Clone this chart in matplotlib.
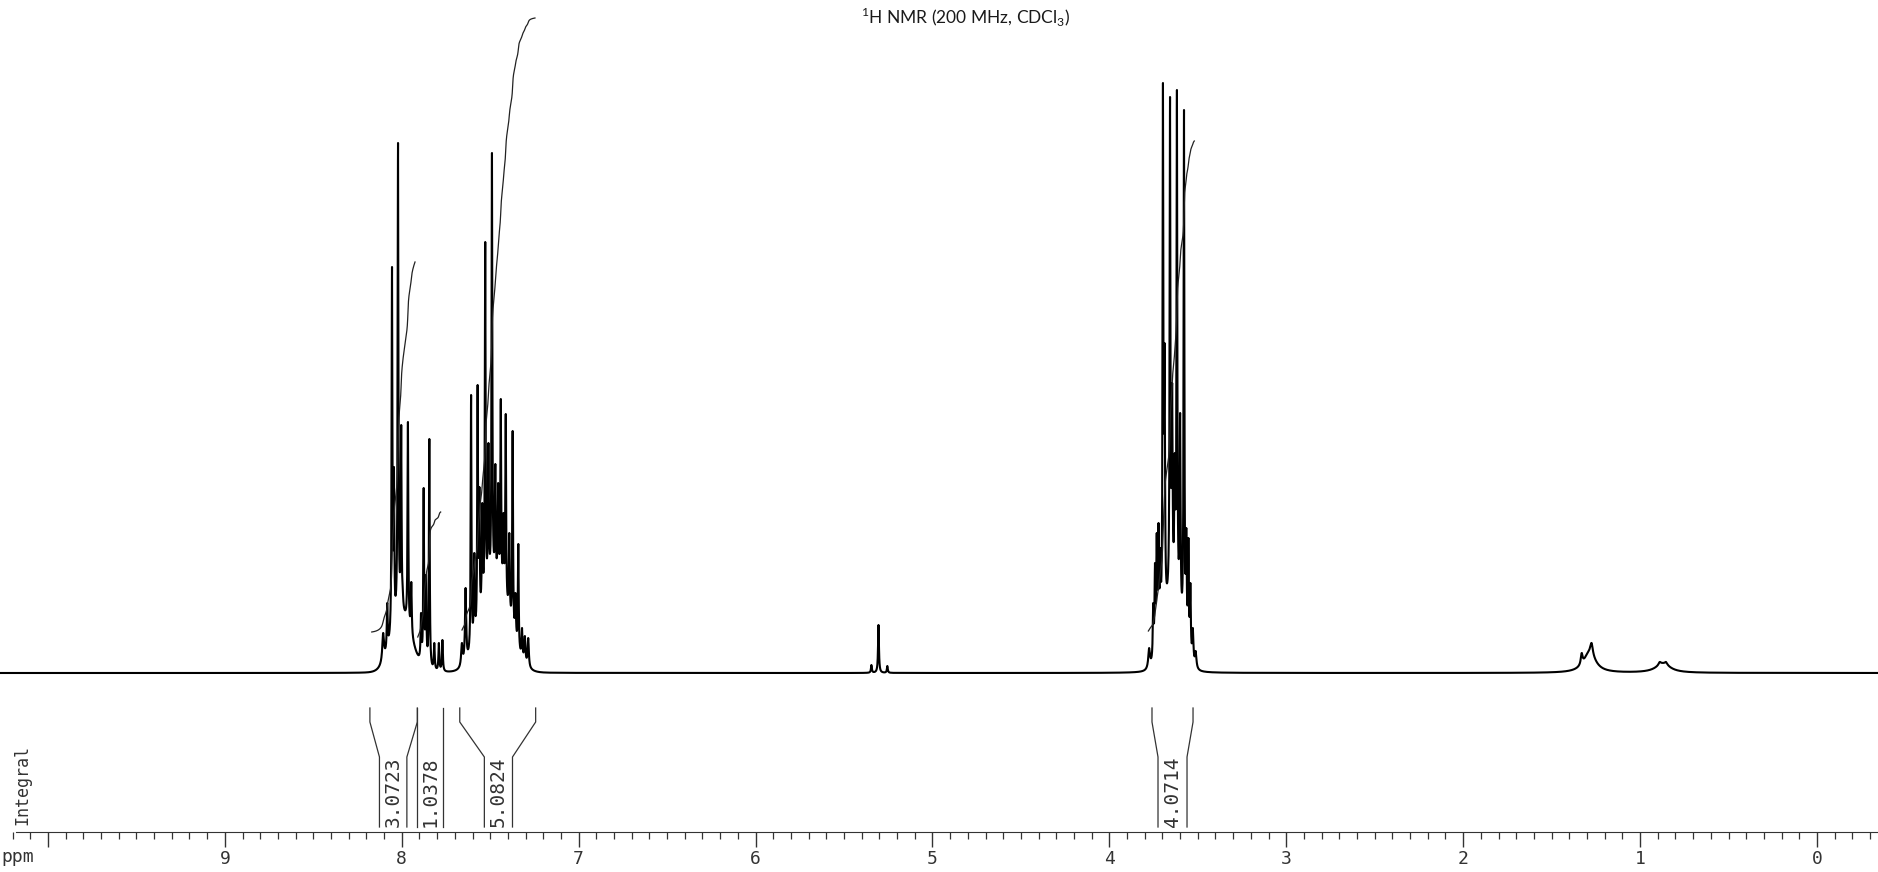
import numpy as np
import matplotlib.pyplot as plt
from matplotlib.ticker import FixedLocator, FixedFormatter, MultipleLocator

plt.rcParams['mathtext.fontset'] = 'custom'
plt.rcParams['mathtext.rm'] = 'Lato'

# lines: shift (ppm), height above baseline (px), half width (ppm)
line_ppm = [8.105, 8.082, 8.055, 8.044, 8.021, 8.003, 7.994, 7.965, 7.946,
            7.891, 7.876, 7.863, 7.844, 7.816, 7.790, 7.770,
            7.660, 7.639, 7.608, 7.590, 7.571, 7.561, 7.545, 7.528, 7.510,
            7.490, 7.471, 7.455, 7.440, 7.425, 7.412, 7.392, 7.373, 7.357,
            7.341, 7.320, 7.304, 7.285,
            5.345, 5.305, 5.255,
            3.775, 3.752, 3.742, 3.732, 3.722, 3.712, 3.697, 3.688, 3.657,
            3.645, 3.630, 3.618, 3.600, 3.578, 3.565, 3.553, 3.542, 3.528, 3.512,
            1.330, 1.274, 0.889, 0.853]
line_height = [40, 70, 406, 206, 530, 248, 83, 251, 91,
               60, 185, 98, 234, 30, 30, 33,
               30, 85, 278, 120, 288, 186, 170, 431, 230,
               520, 209, 190, 274, 160, 259, 140, 242, 80,
               129, 45, 37, 35,
               8, 48, 7,
               25, 70, 110, 140, 150, 125, 590, 330, 576,
               290, 220, 583, 260, 563, 145, 135, 90, 45, 22,
               20, 30, 11, 11]
line_width = [0.006, 0.003, 0.0025, 0.0025, 0.0025, 0.0025, 0.003, 0.0025, 0.003,
              0.003, 0.0025, 0.003, 0.0025, 0.003, 0.003, 0.003,
              0.005, 0.004, 0.0025, 0.003, 0.0025, 0.0025, 0.003, 0.0025, 0.003,
              0.0025, 0.0025, 0.003, 0.0025, 0.003, 0.0025, 0.003, 0.0025, 0.003,
              0.0025, 0.003, 0.004, 0.004,
              0.003, 0.003, 0.003,
              0.006, 0.003, 0.003, 0.003, 0.003, 0.003, 0.0025, 0.003, 0.0025,
              0.003, 0.003, 0.0025, 0.003, 0.0025, 0.003, 0.003, 0.003, 0.004, 0.005,
              0.006, 0.008, 0.008, 0.008]

# broad bases under the multiplets (gaussian) and the aliphatic humps (lorentzian)
base_ppm = [8.00, 7.47, 3.645]
base_height = [55, 85, 70]
base_sigma = [0.055, 0.075, 0.045]
hump_ppm = [1.285, 0.870]
hump_height = [20, 9]
hump_width = [0.04, 0.05]

# integrals: range of the running integral and its height at both ends
int_start = [8.17, 7.91, 7.66, 3.78]
int_end = [7.925, 7.78, 7.247, 3.52]
int_low = [41, 36, 43, 42]
int_high = [411, 161, 655, 532]

# integral brackets: outer (top) and inner (bottom) edges, values
br_outer_l = [8.180, 7.912, 7.672, 3.759]
br_outer_r = [7.912, 7.765, 7.243, 3.527]
br_inner_l = [8.126, 7.912, 7.533, 3.725]
br_inner_r = [7.971, 7.765, 7.374, 3.561]
br_value = ['3.0723', '1.0378', '5.0824', '4.0714']

tick_ppm = list(range(0, 11))
tick_text = [str(t) for t in range(0, 10)] + ['']


def lorentz(x, x0, w):
    return w ** 2 / ((x - x0) ** 2 + w ** 2)


def broad(x):
    y = np.zeros_like(x, dtype=float)
    for c, h, s in zip(base_ppm, base_height, base_sigma):
        y += h * np.exp(-0.5 * ((x - c) / s) ** 2)
    for c, h, w in zip(hump_ppm, hump_height, hump_width):
        y += h * lorentz(x, c, w)
    return y


ppm = np.arange(-0.345, 10.28, 0.0005)
P = np.array(line_ppm)
W = np.array(line_width)
# amplitudes so that the summed trace reaches the read heights at each line
M = lorentz(P[:, None], P[None, :], W[None, :])
amp = np.linalg.solve(M, np.array(line_height, float) - broad(P))
amp = np.clip(amp, 0, None)

spec = broad(ppm)
for a, c, w in zip(amp, P, W):
    spec += a * lorentz(ppm, c, w)

fig = plt.figure(figsize=(18.78, 8.72), dpi=100)
ax = fig.add_axes([0, 0, 1, 1])
ax.set_xlim(10.271, -0.345)
ax.set_ylim(-199, 673)

ax.plot(ppm, spec, color='black', lw=1.5)

# running integrals
for s, e, lo, hi in zip(int_start, int_end, int_low, int_high):
    m = (ppm <= s) & (ppm >= e)
    x = ppm[m][::-1]
    c = np.cumsum(spec[m][::-1])
    c = (c - c[0]) / (c[-1] - c[0])
    ax.plot(x, lo + c * (hi - lo), color='#222222', lw=0.9)

# brackets under the trace
top, knee, foot, bottom = -35, -49, -84, -154
for ol, orr, il, ir, v in zip(br_outer_l, br_outer_r, br_inner_l, br_inner_r, br_value):
    ax.plot([ol, ol, il, il], [top, knee, foot, bottom], color='#333333', lw=0.9)
    ax.plot([orr, orr, ir, ir], [top, knee, foot, bottom], color='#333333', lw=0.9)
    ax.text((il + ir) / 2, -119, v, rotation=90, ha='center', va='center',
            family='DejaVu Sans Mono', fontsize=14, color='#333333')

ax.text(10.147, -112, 'Integral', rotation=90, ha='center', va='center',
        family='DejaVu Sans Mono', fontsize=12, color='#333333')
ax.text(10.17, -184, 'ppm', ha='center', va='center',
        family='DejaVu Sans Mono', fontsize=13, color='#333333')

for side in ['top', 'left', 'right']:
    ax.spines[side].set_visible(False)
ax.spines['bottom'].set_position(('data', -159))
ax.spines['bottom'].set_bounds(-0.345, 10.18)
ax.spines['bottom'].set_color('#333333')
ax.set_yticks([])
ax.xaxis.set_major_locator(FixedLocator(tick_ppm))
ax.xaxis.set_major_formatter(FixedFormatter(tick_text))
ax.xaxis.set_minor_locator(MultipleLocator(0.1))
ax.tick_params(axis='x', which='major', direction='out', length=11, width=1,
               pad=2, labelsize=13, colors='#333333')
ax.tick_params(axis='x', which='minor', direction='out', length=5, width=0.9,
               colors='#333333')
for lab in ax.get_xticklabels():
    lab.set_family('DejaVu Sans Mono')

fig.text(0.514, 0.9805, r'$^{1}$H NMR (200 MHz, CDCl$_{3}$)', ha='center', va='center',
         family='Lato', fontsize=12.5, color='#1a1a1a')

fig.savefig('out.png', dpi=100)
